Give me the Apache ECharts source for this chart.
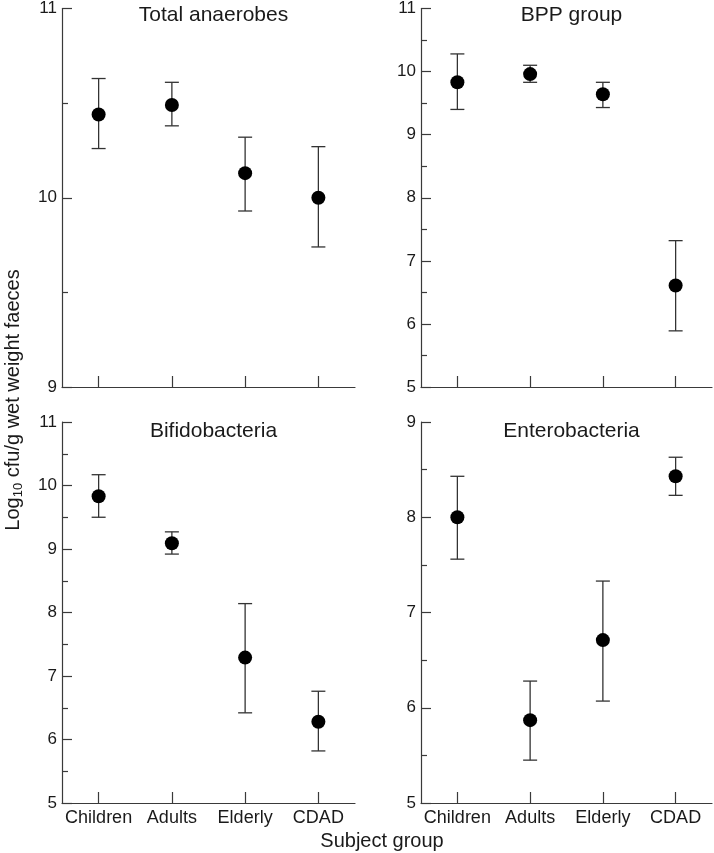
<!DOCTYPE html>
<html>
<head>
<meta charset="utf-8">
<script src="https://cdn.jsdelivr.net/npm/echarts@6/dist/echarts.min.js"></script>
<style>
html,body{margin:0;padding:0;background:#fff;}
#c{width:714px;height:853px;}
</style>
</head>
<body>
<div id="c"></div>
<script>
const categories = ['Children', 'Adults', 'Elderly', 'CDAD'];
const panelTitles = ['Total anaerobes', 'BPP group', 'Bifidobacteria', 'Enterobacteria'];

// Means, lower and upper error bar ends per panel
const anaerobesMean = [10.44, 10.49, 10.13, 10.00];
const anaerobesLow  = [10.26, 10.38, 9.93, 9.74];
const anaerobesHigh = [10.63, 10.61, 10.32, 10.27];

const bppMean = [9.83, 9.96, 9.64, 6.61];
const bppLow  = [9.40, 9.83, 9.43, 5.89];
const bppHigh = [10.28, 10.10, 9.83, 7.32];

const bifidoMean = [9.83, 9.09, 7.29, 6.28];
const bifidoLow  = [9.50, 8.92, 6.42, 5.82];
const bifidoHigh = [10.17, 9.27, 8.14, 6.76];

const enteroMean = [8.00, 5.87, 6.71, 8.43];
const enteroLow  = [7.56, 5.45, 6.07, 8.23];
const enteroHigh = [8.43, 6.28, 7.33, 8.63];

const yMin = [9, 5, 5, 5];
const yMax = [11, 11, 11, 9];

const panels = [
  [anaerobesMean, anaerobesLow, anaerobesHigh],
  [bppMean, bppLow, bppHigh],
  [bifidoMean, bifidoLow, bifidoHigh],
  [enteroMean, enteroLow, enteroHigh]
];

const FONT = '"Liberation Sans", Arial, Helvetica, sans-serif';
const AXIS_COLOR = '#3a3a3a';
const TEXT_COLOR = '#1a1a1a';

const gridBoxes = [
  {left: 62, top: 6, width: 293, height: 381},
  {left: 421, top: 6, width: 291, height: 381},
  {left: 62, top: 422, width: 293, height: 381},
  {left: 421, top: 422, width: 291, height: 381}
];

const grids = gridBoxes.map(g => Object.assign({containLabel: false}, g));

const xAxes = gridBoxes.map((g, i) => ({
  type: 'category',
  gridIndex: i,
  data: categories,
  boundaryGap: true,
  axisLine: {lineStyle: {color: AXIS_COLOR, width: 1.2}},
  axisTick: {show: true, inside: true, alignWithLabel: true, interval: 0, length: 11, lineStyle: {color: AXIS_COLOR, width: 1.2}},
  axisLabel: {show: i >= 2, interval: 0, hideOverlap: false, color: TEXT_COLOR, fontSize: 18, fontFamily: FONT, margin: 6},
  splitLine: {show: false}
}));

const yAxes = gridBoxes.map((g, i) => ({
  type: 'value',
  gridIndex: i,
  min: yMin[i],
  max: yMax[i],
  interval: 1,
  axisLine: {show: true, lineStyle: {color: AXIS_COLOR, width: 1.2}},
  axisTick: {show: true, inside: true, length: 10, lineStyle: {color: AXIS_COLOR, width: 1.2}},
  minorTick: {show: true, splitNumber: 2, length: 6, lineStyle: {color: AXIS_COLOR, width: 1.2}},
  axisLabel: {color: TEXT_COLOR, fontSize: 17, fontFamily: FONT, margin: 5},
  splitLine: {show: false}
}));

const titles = gridBoxes.map((g, i) => ({
  text: panelTitles[i],
  left: g.left + g.width / 2,
  top: g.top - 6,
  textAlign: 'center',
  textStyle: {fontSize: 21, fontWeight: 'normal', color: TEXT_COLOR, fontFamily: FONT}
}));

const series = [];
panels.forEach((p, i) => {
  const [mean, low, high] = p;
  series.push({
    type: 'custom',
    xAxisIndex: i,
    yAxisIndex: i,
    data: categories.map((c, k) => [k, low[k], high[k]]),
    renderItem: function (params, api) {
      const x = api.value(0);
      const lo = api.coord([x, api.value(1)]);
      const hi = api.coord([x, api.value(2)]);
      const hw = 7;
      const style = {stroke: '#333', lineWidth: 1.3, fill: null};
      return {
        type: 'group',
        children: [
          {type: 'line', shape: {x1: lo[0], y1: lo[1], x2: hi[0], y2: hi[1]}, style: style},
          {type: 'line', shape: {x1: hi[0] - hw, y1: hi[1], x2: hi[0] + hw, y2: hi[1]}, style: style},
          {type: 'line', shape: {x1: lo[0] - hw, y1: lo[1], x2: lo[0] + hw, y2: lo[1]}, style: style}
        ]
      };
    },
    z: 2,
    silent: true
  });
  series.push({
    type: 'scatter',
    xAxisIndex: i,
    yAxisIndex: i,
    data: mean.map((v, k) => [k, v]),
    symbol: 'circle',
    symbolSize: 14,
    itemStyle: {color: '#000', opacity: 1},
    z: 3,
    silent: true
  });
});

const chart = echarts.init(document.getElementById('c'), null, {renderer: 'canvas'});
chart.setOption({
  animation: false,
  backgroundColor: '#fff',
  title: titles,
  grid: grids,
  xAxis: xAxes,
  yAxis: yAxes,
  series: series,
  graphic: [
    {
      type: 'text',
      x: 13,
      y: 400,
      rotation: Math.PI / 2,
      style: {
        text: '{a|Log}{s|10}{a| cfu/g wet weight faeces}',
        align: 'center',
        verticalAlign: 'middle',
        fill: TEXT_COLOR,
        rich: {
          a: {fontSize: 20, fontFamily: FONT, fill: TEXT_COLOR, color: TEXT_COLOR, lineHeight: 24},
          s: {fontSize: 13, fontFamily: FONT, fill: TEXT_COLOR, color: TEXT_COLOR, lineHeight: 24, verticalAlign: 'bottom', padding: [6, 0, 0, 0]}
        }
      }
    },
    {
      type: 'text',
      x: 382,
      y: 841,
      style: {
        text: 'Subject group',
        align: 'center',
        verticalAlign: 'middle',
        fontSize: 20,
        fontFamily: FONT,
        fill: TEXT_COLOR
      }
    }
  ]
});
</script>
</body>
</html>
